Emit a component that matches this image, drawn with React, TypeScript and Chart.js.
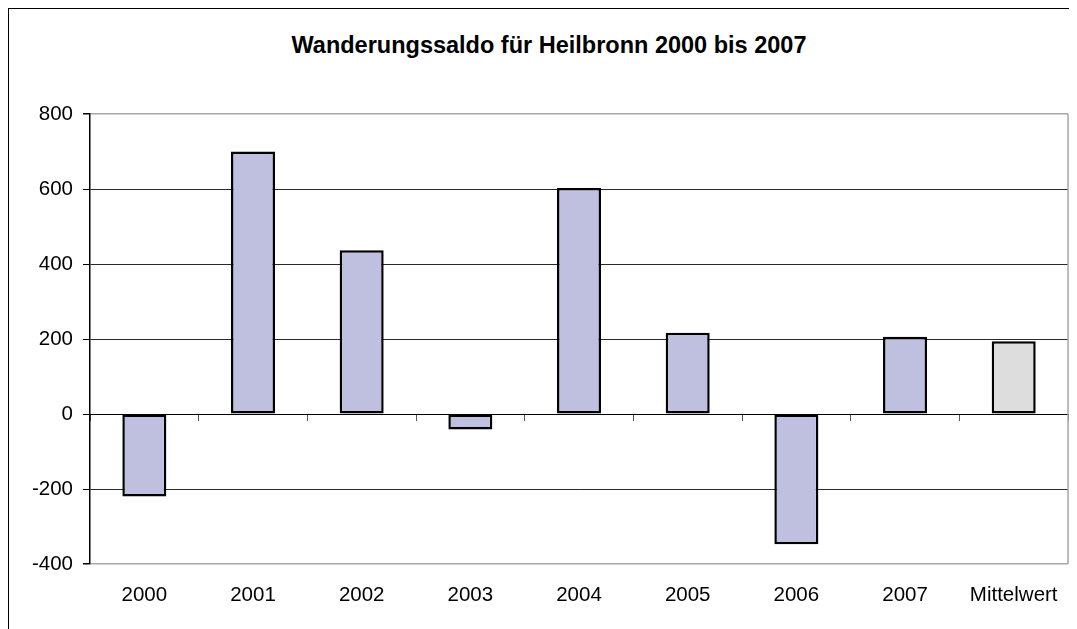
import { useEffect, useRef } from 'react';
import { Chart, registerables } from 'chart.js';

Chart.register(...registerables);

// ---- data ----
const categories = ['2000', '2001', '2002', '2003', '2004', '2005', '2006', '2007', 'Mittelwert'];
const saldo = [-220, 700, 437, -41, 603, 217, -347, 206, 194];
const yMin = -400;
const yMax = 800;
const yStep = 200;
const titleText = 'Wanderungssaldo für Heilbronn 2000 bis 2007';

// ---- styles ----
const FONT = '"Liberation Sans", Arial, Helvetica, sans-serif';
const BAR_FILL = '#BFC0DF';
const MEAN_FILL = '#DDDDDD';
const GRID_DARK = '#2a2a2a';
const FRAME_GRAY = '#A6A6A6';

const framePlugin = {
  id: 'plotFrame',
  afterDraw(chart: any) {
    const { ctx, chartArea } = chart;
    ctx.save();
    ctx.strokeStyle = FRAME_GRAY;
    ctx.lineWidth = 1.5;
    ctx.beginPath();
    ctx.moveTo(chartArea.right, chartArea.top);
    ctx.lineTo(chartArea.right, chartArea.bottom);
    ctx.stroke();
    ctx.restore();
  },
};

export default function App() {
  const ref = useRef<HTMLCanvasElement>(null);

  useEffect(() => {
    Chart.defaults.font.family = FONT;
    const chart = new Chart(ref.current as HTMLCanvasElement, {
      type: 'bar',
      data: {
        labels: categories,
        datasets: [
          {
            data: saldo,
            backgroundColor: (c: any) => (c.dataIndex === saldo.length - 1 ? MEAN_FILL : BAR_FILL),
            borderColor: '#000',
            borderWidth: 2.5,
            borderSkipped: false,
            barPercentage: 0.405,
            categoryPercentage: 1,
          },
        ],
      },
      options: {
        animation: false,
        responsive: false,
        maintainAspectRatio: false,
        layout: { padding: { top: 105, right: 8, bottom: 0, left: 0 } },
        plugins: {
          legend: { display: false },
          tooltip: { enabled: false },
          title: { display: false },
        },
        scales: {
          x: {
            type: 'category',
            position: 'bottom',
            offset: true,
            grid: { display: false, drawTicks: false },
            border: { display: false },
            ticks: {
              color: '#000',
              font: { size: 20.5 },
              padding: 19,
              maxRotation: 0,
              autoSkip: false,
            },
            afterFit: (s: any) => {
              s.height = 65;
            },
          },
          x0: {
            type: 'category',
            position: { y: 0 },
            offset: true,
            grid: {
              offset: true,
              drawOnChartArea: false,
              drawTicks: true,
              tickLength: 6,
              color: '#555',
              lineWidth: 1,
            },
            border: { display: true, color: '#000', width: 1 },
            ticks: { display: false },
          },
          y: {
            min: yMin,
            max: yMax,
            ticks: {
              stepSize: yStep,
              color: '#000',
              font: { size: 20.5 },
              padding: 10,
            },
            grid: {
              color: (c: any) =>
                c.tick && (c.tick.value === yMax || c.tick.value === yMin) ? FRAME_GRAY : GRID_DARK,
              lineWidth: (c: any) =>
                c.tick && (c.tick.value === yMax || c.tick.value === yMin) ? 1.5 : 1,
              tickLength: 7,
              tickColor: '#000',
            },
            border: { color: '#000', width: 1.5 },
            afterFit: (s: any) => {
              s.width = 81;
            },
          },
        },
      } as any,
      plugins: [framePlugin],
    });
    return () => chart.destroy();
  }, []);

  return (
    <>
      <style>{'html,body{overflow:hidden}'}</style>
      <div
        style={{
          position: 'relative',
          width: 1068,
          height: 620,
          borderTop: '1px solid #000',
          borderLeft: '1px solid #000',
          background: '#fff',
          overflow: 'hidden',
        }}
      >
        <div
          style={{
            position: 'absolute',
            left: 0,
            top: 23.5,
            width: 1080,
            textAlign: 'center',
            fontFamily: FONT,
            fontWeight: 'bold',
            fontSize: 23.5,
            lineHeight: '24px',
            color: '#000',
            whiteSpace: 'nowrap',
          }}
        >
          {titleText}
        </div>
        <canvas
          ref={ref}
          width={1068}
          height={620}
          style={{ position: 'absolute', left: 0, top: 0, display: 'block' }}
        />
      </div>
    </>
  );
}
